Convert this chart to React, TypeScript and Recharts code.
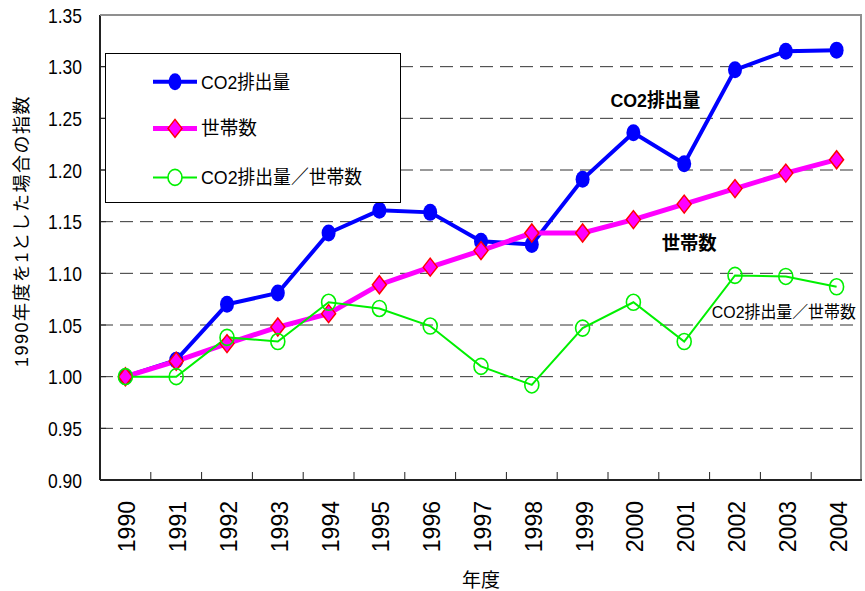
import React from "react"
import {
  LineChart,
  Line,
  XAxis,
  YAxis,
  CartesianGrid,
  Legend,
  ReferenceDot,
  Label,
} from "recharts"

const years = ["1990", "1991", "1992", "1993", "1994", "1995", "1996", "1997", "1998", "1999", "2000", "2001", "2002", "2003", "2004"]
const co2 = [1.0, 1.016, 1.07, 1.081, 1.139, 1.161, 1.159, 1.131, 1.128, 1.191, 1.236, 1.206, 1.297, 1.315, 1.316]
const households = [1.0, 1.015, 1.032, 1.048, 1.061, 1.089, 1.106, 1.122, 1.139, 1.139, 1.152, 1.167, 1.182, 1.197, 1.21]
const perHousehold = [1.0, 1.0, 1.038, 1.034, 1.072, 1.066, 1.049, 1.01, 0.992, 1.047, 1.072, 1.034, 1.098, 1.097, 1.087]
const yTicks = [0.9, 0.95, 1.0, 1.05, 1.1, 1.15, 1.2, 1.25, 1.3, 1.35]

const seriesNames = ["CO2排出量", "世帯数", "CO2排出量／世帯数"]

const data = years.map((year, i) => ({
  year,
  co2: co2[i],
  households: households[i],
  perHousehold: perHousehold[i],
}))

const W = 865
const H = 591
const Y_AXIS_W = 100
const X_AXIS_H = 111
const MARGIN = { top: 15, right: 3, left: 0, bottom: 0 }
const PLOT_W = W - Y_AXIS_W - MARGIN.right
const PLOT_H = H - MARGIN.top - X_AXIS_H
const band = PLOT_W / years.length

const SANS = "'Liberation Sans', Arial, 'Noto Sans CJK JP', sans-serif"

const BLUE = "#0000ff"
const MAGENTA = "#ff00ff"
const GREEN = "#00f000"
const FRAME = "#8f8f8f"

const BlueDot = (p: any) => {
  if (p.cx == null || p.cy == null) return <g key={p.index} />
  return <ellipse key={p.index} cx={p.cx} cy={p.cy} rx={7} ry={8.5} fill={BLUE} />
}

const Diamond = (p: any) => {
  if (p.cx == null || p.cy == null) return <g key={p.index} />
  const { cx, cy } = p
  return (
    <path
      key={p.index}
      d={`M${cx},${cy - 9} L${cx + 7},${cy} L${cx},${cy + 9} L${cx - 7},${cy} Z`}
      fill={MAGENTA}
      stroke="#ff0000"
      strokeWidth={1.5}
    />
  )
}

const OpenDot = (p: any) => {
  if (p.cx == null || p.cy == null) return <g key={p.index} />
  return <ellipse key={p.index} cx={p.cx} cy={p.cy} rx={7} ry={8} fill="none" stroke={GREEN} strokeWidth={1.6} />
}

const XTick = ({ x, y, payload }: any) => (
  <g>
    <line x1={x - band / 2} x2={x - band / 2} y1={y} y2={y - 8} stroke="#222" />
    <text
      transform={`translate(${x + 10},${y + 21}) rotate(-90)`}
      textAnchor="end"
      fontSize={23}
      fontFamily={SANS}
      fill="#000"
    >
      {payload.value}
    </text>
  </g>
)

const YTick = ({ x, y, payload }: any) => (
  <g>
    <line x1={x + 18} x2={x + 24} y1={y} y2={y} stroke="#222" />
    <text
      x={x - 34}
      y={y}
      dy="0.36em"
      textLength={34}
      lengthAdjust="spacingAndGlyphs"
      fontSize={21}
      fontFamily={SANS}
      fill="#000"
    >
      {Number(payload.value).toFixed(2)}
    </text>
  </g>
)

function LegendBox() {
  const rows = [27.7, 74.4, 123.4]
  const widths = [89, 56, 161]
  return (
    <div style={{ width: 296, height: 150, border: "1px solid #000", background: "#fff", boxSizing: "border-box" }}>
      <svg width={294} height={148} style={{ display: "block" }}>
        <line x1={47} x2={91} y1={rows[0]} y2={rows[0]} stroke={BLUE} strokeWidth={4} />
        <ellipse cx={69} cy={rows[0]} rx={6.5} ry={8.5} fill={BLUE} />
        <line x1={47} x2={91} y1={rows[1]} y2={rows[1]} stroke={MAGENTA} strokeWidth={5} />
        <path
          d={`M69,${rows[1] - 9} L76,${rows[1]} L69,${rows[1] + 9} L62,${rows[1]} Z`}
          fill={MAGENTA}
          stroke="#ff0000"
          strokeWidth={1.5}
        />
        <line x1={47} x2={91} y1={rows[2]} y2={rows[2]} stroke={GREEN} strokeWidth={2} />
        <ellipse cx={69} cy={rows[2]} rx={7} ry={8} fill="#fff" stroke={GREEN} strokeWidth={1.6} />
        {seriesNames.map((name, i) => (
          <text
            key={name}
            x={95}
            y={rows[i]}
            dy="0.36em"
            fontSize={19}
            textLength={widths[i]}
            lengthAdjust="spacingAndGlyphs"
            fontFamily={SANS}
            fill="#000"
          >
            {name}
          </text>
        ))}
      </svg>
    </div>
  )
}

const annotation = (text: string, dx: number, bold: boolean, width: number, size: number) => (props: any) => {
  const vb = props.viewBox || {}
  const cx = (vb.x ?? 0) + (vb.width ?? 0) / 2
  const cy = (vb.y ?? 0) + (vb.height ?? 0) / 2
  return (
    <text
      x={cx + dx - width / 2}
      y={cy}
      dy="0.36em"
      textLength={width}
      lengthAdjust="spacingAndGlyphs"
      fontSize={size}
      fontWeight={bold ? "bold" : "normal"}
      fontFamily={SANS}
      fill="#000"
    >
      {text}
    </text>
  )
}

export default function App() {
  return (
    <div style={{ position: "absolute", left: 0, top: 0, width: W, height: H, background: "#fff" }}>
      <LineChart width={W} height={H} data={data} margin={MARGIN}>
        <CartesianGrid vertical={false} stroke="#333" strokeDasharray="13 7" />
        <XAxis
          dataKey="year"
          height={X_AXIS_H}
          padding={{ left: band / 2, right: band / 2 }}
          tickSize={0}
          tickMargin={0}
          tickLine={false}
          interval={0}
          axisLine={{ stroke: "#222", strokeWidth: 2 }}
          tick={<XTick />}
        >
          <Label value="年度" position="insideBottom" offset={4} fontSize={19} fontFamily={SANS} fill="#000" />
        </XAxis>
        <YAxis
          type="number"
          domain={[0.9, 1.35]}
          ticks={yTicks}
          width={Y_AXIS_W}
          tickSize={0}
          tickMargin={18}
          tickLine={false}
          interval={0}
          axisLine={{ stroke: "#222", strokeWidth: 2 }}
          tick={<YTick />}
        >
          <Label
            content={() => (
              <text
                transform="translate(28,231) rotate(-90)"
                textAnchor="middle"
                fontSize={18}
                letterSpacing={1.5}
                fontFamily={SANS}
                fill="#000"
              >
                1990年度を1とした場合の指数
              </text>
            )}
          />
        </YAxis>
        <Line dataKey="co2" name={seriesNames[0]} stroke={BLUE} strokeWidth={4} dot={BlueDot} isAnimationActive={false} />
        <Line dataKey="households" name={seriesNames[1]} stroke={MAGENTA} strokeWidth={5} dot={Diamond} isAnimationActive={false} />
        <Line dataKey="perHousehold" name={seriesNames[2]} stroke={GREEN} strokeWidth={2} dot={OpenDot} isAnimationActive={false} />
        <ReferenceDot x="2000" y={1.268} r={1} fill="none" stroke="none" label={{ content: annotation("CO2排出量", 22, true, 90, 19) }} />
        <ReferenceDot x="2001" y={1.129} r={1} fill="none" stroke="none" label={{ content: annotation("世帯数", 5, true, 55, 19) }} />
        <ReferenceDot x="2003" y={1.063} r={1} fill="none" stroke="none" label={{ content: annotation("CO2排出量／世帯数", -2, false, 144, 16.5) }} />
        <Legend
          layout="vertical"
          align="center"
          verticalAlign="middle"
          content={() => <LegendBox />}
          wrapperStyle={{ left: 105, top: 53, width: 296, height: 150 }}
        />
      </LineChart>
      {/* plot frame: top and right edges in grey */}
      <div
        style={{
          position: "absolute",
          left: Y_AXIS_W,
          top: MARGIN.top - 1,
          width: PLOT_W,
          height: PLOT_H,
          borderTop: `2px solid ${FRAME}`,
          borderRight: `2px solid ${FRAME}`,
          boxSizing: "border-box",
          pointerEvents: "none",
        }}
      />
    </div>
  )
}
